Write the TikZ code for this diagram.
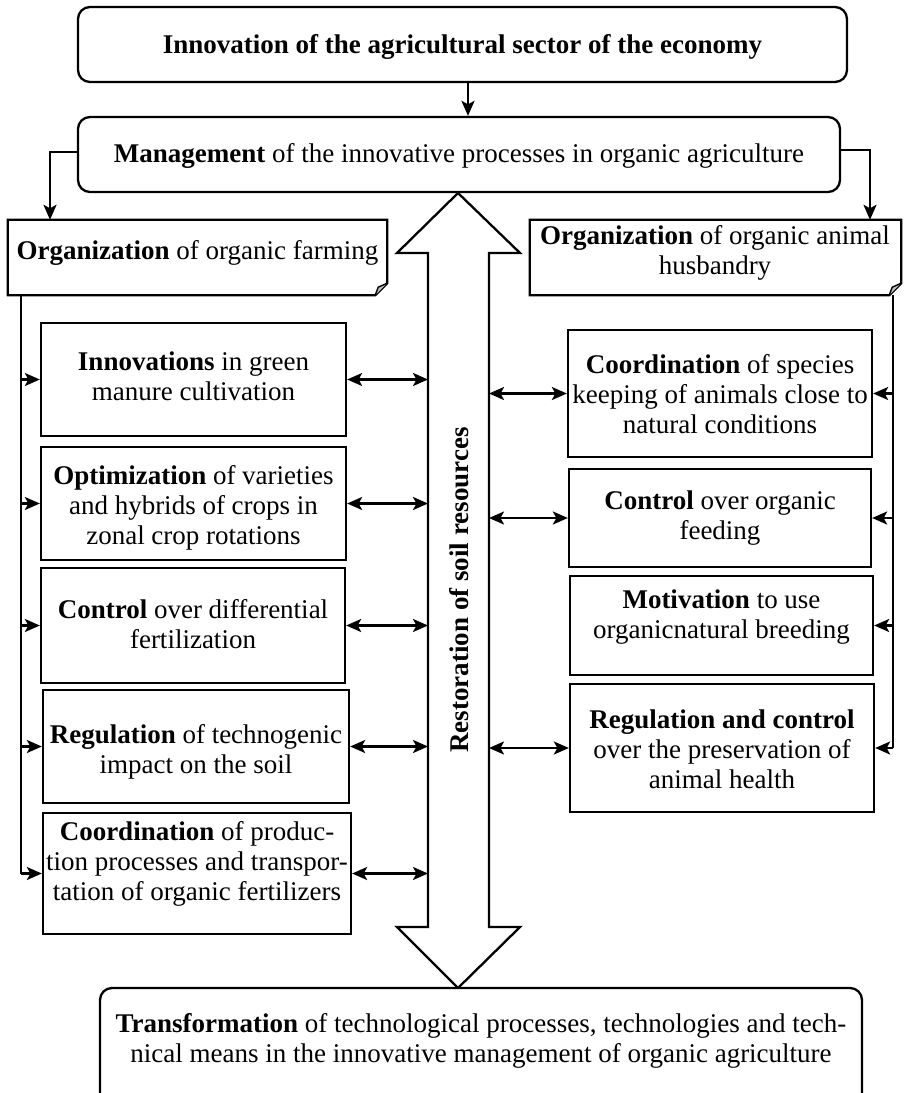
\documentclass[tikz,border=0pt]{standalone}
\usepackage{fontspec}
\setmainfont{Liberation Serif}
\usetikzlibrary{arrows.meta,calc}
\begin{document}
\begin{tikzpicture}[x=1pt,y=-1pt,
  box/.style={draw,line width=2.3pt,inner sep=0pt,fill=white},
  rbox/.style={box,rounded corners=12pt},
  ghost/.style={inner sep=0pt},
  txt/.style={align=center,font=\fontsize{27}{30}\selectfont,inner sep=0pt},
  ln/.style={line width=2.3pt},
  tip/.style={},
  arr/.style={line width=2.3pt,-{Stealth[length=15pt,width=13pt,inset=3.5pt]}},
  biarr/.style={line width=2.3pt,{Stealth[length=15pt,width=13pt,inset=3.5pt]}-{Stealth[length=15pt,width=13pt,inset=3.5pt]}}]
\useasboundingbox (0,0) rectangle (904,1093);
\clip (0,0) rectangle (904,1093);

% coordinates
\coordinate (sl) at (428,0);
\coordinate (sr) at (489,0);
\coordinate (busL) at (21,0);
\coordinate (busR) at (893,0);
\coordinate (ax) at (468,0);
\coordinate (cl) at (50,152);
\coordinate (cr) at (870,150);

% big double arrow
\draw[ln,fill=white,line join=miter] (458,193) -- (520,253) -- (489,253) -- (489,927) -- (520,927) -- (458,988)
  -- (397,927) -- (428,927) -- (428,253) -- (397,253) -- cycle;
\node[txt,font=\fontsize{27}{30}\selectfont\bfseries,rotate=90] (rest) at (459,590) {Restoration of soil resources};

% top boxes
\node[rbox,minimum width=769pt,minimum height=75pt] (top) at (462.5,44.5) {};
\node[txt] at (462.5,47) {\textbf{Innovation of the agricultural sector of the economy}};
\node[rbox,minimum width=762pt,minimum height=75pt] (mgmt) at (459,154.5) {};
\node[txt] at (459,156) {\textbf{Management} of the innovative processes in organic agriculture};

% organization (document shapes)
\node[ghost,minimum width=379pt,minimum height=75pt] (orgL) at (197.5,257.5) {};
\draw[ln,fill=white,line join=miter] (orgL.north west) -- (orgL.north east) -- ([yshift=12pt]orgL.south east)
  -- ([xshift=-12pt]orgL.south east) -- (orgL.south west) -- cycle;
\draw[line width=1.4pt,fill=black!25] ([xshift=-12pt]orgL.south east) -- ([xshift=-9pt,yshift=8pt]orgL.south east) -- ([yshift=12pt]orgL.south east);
\node[txt] at (197.5,253) {\textbf{Organization} of organic farming};

\node[ghost,minimum width=371pt,minimum height=75pt] (orgR) at (715.5,257.5) {};
\draw[ln,fill=white,line join=miter] (orgR.north west) -- (orgR.north east) -- ([yshift=12pt]orgR.south east)
  -- ([xshift=-12pt]orgR.south east) -- (orgR.south west) -- cycle;
\draw[line width=1.4pt,fill=black!25] ([xshift=-12pt]orgR.south east) -- ([xshift=-9pt,yshift=8pt]orgR.south east) -- ([yshift=12pt]orgR.south east);
\node[txt] at (715,253) {\textbf{Organization} of organic animal\\husbandry};

% left boxes
\node[box,minimum width=305pt,minimum height=113pt] (L1) at (193.5,379.5) {};
\node[txt] at (193.5,376) {\textbf{Innovations} in green\\manure cultivation};
\node[box,minimum width=305pt,minimum height=113pt] (L2) at (193.5,503.5) {};
\node[txt] at (193.5,508) {\textbf{Optimization} of varieties\\and hybrids of crops in\\zonal crop rotations};
\node[box,minimum width=304pt,minimum height=115pt] (L3) at (193,625.5) {};
\node[txt] at (193,624) {\textbf{Control} over differential\\fertilization};
\node[box,minimum width=306pt,minimum height=113pt] (L4) at (196,746.5) {};
\node[txt] at (196,752) {\textbf{Regulation} of technogenic\\impact on the soil};
\node[box,minimum width=308pt,minimum height=121pt] (L5) at (197,873.5) {};
\node[txt] at (197,864) {\textbf{Coordination} of produc-\\tion processes and transpor-\\tation of organic fertilizers};

% right boxes
\node[box,minimum width=304pt,minimum height=127pt] (R1) at (720,393.5) {};
\node[txt] at (720,394) {\textbf{Coordination} of species\\keeping of animals close to\\natural conditions};
\node[box,minimum width=302pt,minimum height=98pt] (R2) at (720,518) {};
\node[txt] at (720,518) {\textbf{Control} over organic\\feeding};
\node[box,minimum width=303pt,minimum height=99pt] (R3) at (721.5,625.5) {};
\node[txt] at (721.5,617) {\textbf{Motivation} to use\\organicnatural breeding};
\node[box,minimum width=304pt,minimum height=128pt] (R4) at (722,748) {};
\node[txt] at (722,749) {\textbf{Regulation and control}\\over the preservation of\\animal health};

% bottom box
\node[rbox,minimum width=762pt,minimum height=124pt] (bot) at (481,1050) {};
\node[txt] at (481,1041) {\textbf{Transformation} of technological processes, technologies and tech-\\nical means in the innovative management of organic agriculture};

% connectors
\draw[arr] (top.south -| ax) -- (mgmt.north -| ax);
\draw[arr] (mgmt.west |- cl) -- (cl) -- (cl |- orgL.north);
\draw[arr] (mgmt.east |- cr) -- (cr) -- (cr |- orgR.north);

\draw[ln] (orgL.south -| busL) -- (L5.west -| busL);
\foreach \b in {L1,L2,L3,L4,L5}{
  \draw[arr] (\b.west -| busL) -- (\b.west);
  \draw[biarr] (\b.east) -- (\b.east -| sl);
}
\draw[ln] (orgR.south -| busR) -- (R4.east -| busR);
\foreach \b in {R1,R2,R3,R4}{
  \draw[arr] (\b.east -| busR) -- (\b.east);
}
\foreach \b in {R1,R2,R4}{
  \draw[biarr] (\b.west -| sr) -- (\b.west);
}
\end{tikzpicture}
\end{document}
